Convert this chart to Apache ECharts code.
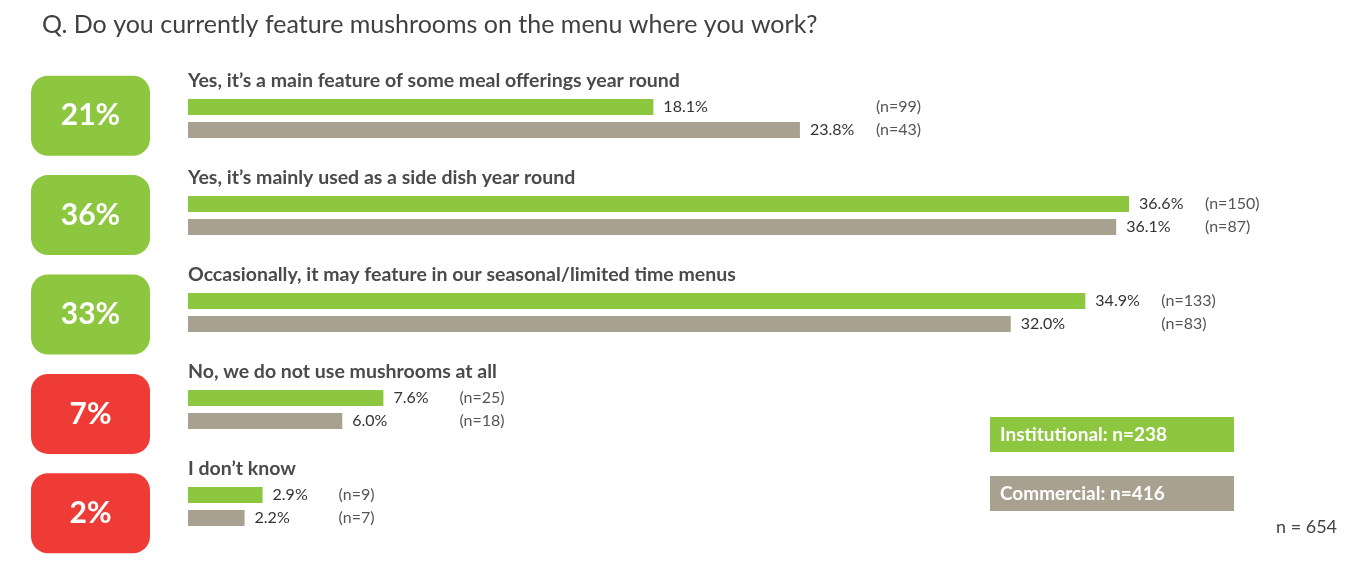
<!DOCTYPE html>
<html>
<head>
<meta charset="utf-8">
<title>Mushrooms on the menu</title>
<script src="https://cdn.jsdelivr.net/npm/echarts@6/dist/echarts.min.js"></script>
<style>
  html, body { margin: 0; padding: 0; background: #ffffff; }
  #chart { width: 1359px; height: 565px; }
</style>
</head>
<body>
<div id="chart"></div>
<script>
// Survey answers, top to bottom
const categories = [
  'Yes, it\u2019s a main feature of some meal offerings year round',
  'Yes, it\u2019s mainly used as a side dish year round',
  'Occasionally, it may feature in our seasonal/limited time menus',
  'No, we do not use mushrooms at all',
  'I don\u2019t know'
];
// Share of respondents (%) per segment
const institutional = [18.1, 36.6, 34.9, 7.6, 2.9];
const commercial = [23.8, 36.1, 32.0, 6.0, 2.2];
// Respondent counts per segment
const institutionalN = [99, 150, 133, 25, 9];
const commercialN = [43, 87, 83, 18, 7];
// Overall share (%) and whether the answer means mushrooms are used
const overall = [21, 36, 33, 7, 2];
const usesMushrooms = [true, true, true, false, false];
// Segment sizes
const segments = ['Institutional', 'Commercial'];
const segmentN = [238, 416];
const totalN = 654;

const GREEN = '#8DC63F';
const TAUPE = '#A9A190';
const RED = '#EE3B36';
const FONT = 'Lato, "Open Sans", sans-serif';

const chart = echarts.init(document.getElementById('chart'), null, { renderer: 'canvas' });

const BAR_W = 16;
const BAR_GAP = 7;
const PAIR_OFFSET = (BAR_W + BAR_GAP) / 2;

const barLabel = {
  show: true,
  position: 'right',
  distance: 10,
  color: '#333333',
  fontSize: 16,
  fontFamily: FONT,
  formatter: p => p.value.toFixed(1) + '%'
};

const option = {
  backgroundColor: '#ffffff',
  animation: false,
  title: [
    {
      text: 'Q. Do you currently feature mushrooms on the menu where you work?',
      left: 42, top: 12, padding: 0,
      textStyle: { fontFamily: FONT, fontSize: 25, fontWeight: 'normal', color: '#404040' }
    },
    {
      text: 'n = ' + totalN,
      left: 1276, top: 518, padding: 0,
      textStyle: { fontFamily: FONT, fontSize: 18, fontWeight: 'normal', color: '#444444' }
    }
  ],
  legend: {
    orient: 'vertical',
    left: 980, top: 412,
    itemWidth: 0, itemHeight: 0, itemGap: 24,
    icon: 'rect',
    selectedMode: false,
    formatter: name => name + ': n=' + segmentN[segments.indexOf(name)],
    textStyle: {
      fontFamily: FONT, fontSize: 19, fontWeight: 'bold', color: '#ffffff',
      width: 226, lineHeight: 19, padding: [8, 8, 8, 10]
    },
    data: [
      { name: segments[0], textStyle: { backgroundColor: GREEN } },
      { name: segments[1], textStyle: { backgroundColor: TAUPE } }
    ]
  },
  grid: [
    { left: 188, width: 1157, top: 70, height: 485, containLabel: false },
    { left: 31, width: 119, top: 66, height: 497, containLabel: false }
  ],
  xAxis: [
    { type: 'value', gridIndex: 0, min: 0, max: 45, show: false },
    { type: 'value', gridIndex: 1, min: 0, max: 1, show: false }
  ],
  yAxis: [
    { type: 'category', gridIndex: 0, data: categories, inverse: true, show: false },
    { type: 'category', gridIndex: 1, data: categories, inverse: true, show: false }
  ],
  series: [
    {
      name: segments[0], type: 'bar', xAxisIndex: 0, yAxisIndex: 0,
      data: institutional, barWidth: BAR_W, barGap: (BAR_GAP / BAR_W * 100) + '%',
      itemStyle: { color: GREEN }, label: barLabel
    },
    {
      name: segments[1], type: 'bar', xAxisIndex: 0, yAxisIndex: 0,
      data: commercial, barWidth: BAR_W,
      itemStyle: { color: TAUPE }, label: barLabel
    },
    {
      // Answer text above each pair of bars and the respondent counts beside them
      type: 'custom', xAxisIndex: 0, yAxisIndex: 0, silent: true, clip: false,
      data: categories.map((c, i) => [Math.max(institutional[i], commercial[i]), i]),
      renderItem: (params, api) => {
        const i = api.value(1);
        const base = api.coord([0, i]);
        const end = api.coord([api.value(0), i]);
        const nx = end[0] + 76;
        const nStyle = { fill: '#555555', fontSize: 16, fontFamily: FONT, verticalAlign: 'middle', align: 'left' };
        return {
          type: 'group',
          children: [
            {
              type: 'text',
              style: {
                x: base[0], y: base[1] - 38, text: categories[i],
                fill: '#4a4a4a', fontSize: 19.5, fontWeight: 'bold', fontFamily: FONT,
                verticalAlign: 'middle', align: 'left'
              }
            },
            { type: 'text', style: Object.assign({ x: nx, y: base[1] - PAIR_OFFSET, text: '(n=' + institutionalN[i] + ')' }, nStyle) },
            { type: 'text', style: Object.assign({ x: nx, y: base[1] + PAIR_OFFSET, text: '(n=' + commercialN[i] + ')' }, nStyle) }
          ]
        };
      }
    },
    {
      // Overall share badges
      type: 'custom', xAxisIndex: 1, yAxisIndex: 1, silent: true, clip: false,
      data: overall.map((v, i) => [0, i, v]),
      renderItem: (params, api) => {
        const i = api.value(1);
        const left = api.coord([0, i]);
        const right = api.coord([1, i]);
        const h = 80;
        return {
          type: 'group',
          children: [
            {
              type: 'rect',
              shape: { x: left[0], y: left[1] - h / 2, width: right[0] - left[0], height: h, r: 17 },
              style: { fill: usesMushrooms[i] ? GREEN : RED }
            },
            {
              type: 'text',
              style: {
                x: (left[0] + right[0]) / 2, y: left[1], text: api.value(2) + '%',
                fill: '#ffffff', fontSize: 30, fontWeight: 'bold', fontFamily: FONT,
                align: 'center', verticalAlign: 'middle'
              }
            }
          ]
        };
      }
    }
  ]
};

chart.setOption(option);
</script>
</body>
</html>
